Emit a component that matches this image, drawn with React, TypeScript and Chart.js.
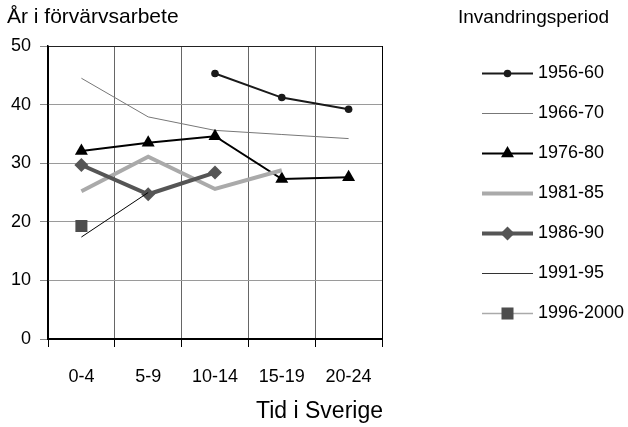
import React, { useEffect, useRef } from 'react';
import { Chart, registerables } from 'chart.js';

Chart.register(...registerables);

const categories = ['0-4', '5-9', '10-14', '15-19', '20-24'];
const seriesNames = ['1956-60', '1966-70', '1976-80', '1981-85', '1986-90', '1991-95', '1996-2000'];
const s1956 = [null, null, 45.3, 41.2, 39.2];
const s1966 = [44.5, 37.9, 35.6, 34.9, 34.2];
const s1976 = [32.1, 33.5, 34.6, 27.3, 27.6];
const s1981 = [25.2, 31.1, 25.6, 28.8, null];
const s1986 = [29.7, 24.7, 28.4, null, null];
const s1991 = [17.4, 25.0, null, null, null];
const s1996 = [19.3, null, null, null, null];
const yMin = 0;
const yMax = 50;
const yStep = 10;
const yTitle = 'År i förvärvsarbete';
const xTitle = 'Tid i Sverige';
const legendTitle = 'Invandringsperiod';

const FONT = '"Liberation Sans", Arial, sans-serif';

type Style = {
  color: string;
  width: number;
  point: string | false;
  radius: number;
  pointColor: string;
  legendLine: string;
};

const styles: Style[] = [
  { color: '#1a1a1a', width: 2, point: 'circle', radius: 3.8, pointColor: '#1a1a1a', legendLine: '#1a1a1a' },
  { color: '#777777', width: 1, point: false, radius: 0, pointColor: '#777777', legendLine: '#777777' },
  { color: '#000000', width: 2, point: 'triangle', radius: 7.5, pointColor: '#000000', legendLine: '#000000' },
  { color: '#aaaaaa', width: 4, point: false, radius: 0, pointColor: '#aaaaaa', legendLine: '#aaaaaa' },
  { color: '#555555', width: 4, point: 'rectRot', radius: 7, pointColor: '#555555', legendLine: '#555555' },
  { color: '#000000', width: 1, point: false, radius: 0, pointColor: '#000000', legendLine: '#333333' },
  { color: '#aaaaaa', width: 1.5, point: 'rect', radius: 8.5, pointColor: '#4d4d4d', legendLine: '#aaaaaa' },
];

const seriesData = [s1956, s1966, s1976, s1981, s1986, s1991, s1996];

function drawMarker(ctx: CanvasRenderingContext2D, style: string, x: number, y: number, r: number) {
  ctx.beginPath();
  if (style === 'circle') {
    ctx.arc(x, y, r, 0, Math.PI * 2);
  } else if (style === 'triangle') {
    ctx.moveTo(x, y - r);
    ctx.lineTo(x + Math.sin((2 * Math.PI) / 3) * r, y - Math.cos((2 * Math.PI) / 3) * r);
    ctx.lineTo(x + Math.sin((4 * Math.PI) / 3) * r, y - Math.cos((4 * Math.PI) / 3) * r);
    ctx.closePath();
  } else if (style === 'rectRot') {
    ctx.moveTo(x - r, y);
    ctx.lineTo(x, y - r);
    ctx.lineTo(x + r, y);
    ctx.lineTo(x, y + r);
    ctx.closePath();
  } else if (style === 'rect') {
    const s = Math.SQRT1_2 * r;
    ctx.rect(x - s, y - s, 2 * s, 2 * s);
  }
  ctx.fill();
}

const textPlugin = {
  id: 'textPlugin',
  afterDraw(chart: any) {
    const ctx: CanvasRenderingContext2D = chart.ctx;
    const area = chart.chartArea;
    ctx.save();
    ctx.fillStyle = '#000';
    ctx.textBaseline = 'alphabetic';
    ctx.textAlign = 'left';
    ctx.font = `21px ${FONT}`;
    ctx.fillText(yTitle, 7, 23);
    ctx.font = `19px ${FONT}`;
    ctx.fillText(legendTitle, 458, 23);
    ctx.font = `23px ${FONT}`;
    ctx.textAlign = 'right';
    ctx.fillText(xTitle, area.right + 1, 418);

    // legend
    const x0 = 482;
    const x1 = 533;
    ctx.font = `18px ${FONT}`;
    ctx.textAlign = 'left';
    ctx.textBaseline = 'middle';
    seriesNames.forEach((name, i) => {
      const y = 73.5 + i * 40;
      const st = styles[i];
      ctx.strokeStyle = st.legendLine;
      ctx.lineWidth = st.width;
      ctx.beginPath();
      ctx.moveTo(x0, y);
      ctx.lineTo(x1, y);
      ctx.stroke();
      if (st.point) {
        ctx.fillStyle = st.pointColor;
        drawMarker(ctx, st.point as string, (x0 + x1) / 2, y, st.radius);
      }
      ctx.fillStyle = '#000';
      ctx.fillText(name, 538, y);
    });
    ctx.restore();
  },
};

export default function App() {
  const ref = useRef<HTMLCanvasElement | null>(null);
  useEffect(() => {
    if (!ref.current) return;
    const datasets = seriesNames.map((name, i) => {
      const st = styles[i];
      return {
        label: name,
        data: seriesData[i],
        borderColor: st.color,
        backgroundColor: st.pointColor,
        borderWidth: st.width,
        pointStyle: st.point || 'circle',
        pointRadius: st.radius,
        pointHoverRadius: st.radius,
        pointBackgroundColor: st.pointColor,
        pointBorderColor: st.pointColor,
        pointBorderWidth: 0,
        tension: 0,
        fill: false,
        spanGaps: false,
        order: seriesNames.length - i,
      };
    });
    const chart = new Chart(ref.current, {
      type: 'line',
      data: { labels: categories, datasets: datasets as any },
      plugins: [textPlugin],
      options: {
        animation: false,
        responsive: false,
        maintainAspectRatio: false,
        devicePixelRatio: 1,
        layout: { padding: { top: 46, right: 628 - 382, left: 0, bottom: 0 } },
        plugins: {
          legend: { display: false },
          title: { display: false },
          tooltip: { enabled: false },
        },
        scales: {
          x: {
            type: 'category',
            offset: true,
            afterFit: (s: any) => {
              s.height = 427 - 339;
            },
            grid: {
              offset: true,
              drawTicks: true,
              tickLength: 8,
              color: (c: any) => (c.type === 'tick' && c.index > 0 ? '#666666' : '#000000'),
              tickColor: '#000000',
              lineWidth: 1,
            },
            border: { display: true, color: '#000000', width: 2 },
            ticks: {
              color: '#000',
              padding: 19,
              font: { family: FONT, size: 18 },
              maxRotation: 0,
            },
          },
          y: {
            min: yMin,
            max: yMax,
            afterFit: (s: any) => {
              s.width = 48;
            },
            grid: {
              tickLength: 8,
              color: (c: any) => (c.tick && c.tick.value === yMax ? '#222222' : '#9a9a9a'),
              tickColor: '#888888',
              lineWidth: 1,
            },
            border: { display: true, color: '#000000', width: 1.5 },
            ticks: {
              stepSize: yStep,
              color: '#000',
              padding: 9,
              font: { family: FONT, size: 18 },
            },
          },
        },
      },
    });
    return () => chart.destroy();
  }, []);
  return (
    <div style={{ position: 'fixed', left: 0, top: 0, width: 628, height: 427, background: '#fff' }}>
      <canvas ref={ref} width={628} height={427} style={{ width: 628, height: 427, display: 'block' }} />
    </div>
  );
}
